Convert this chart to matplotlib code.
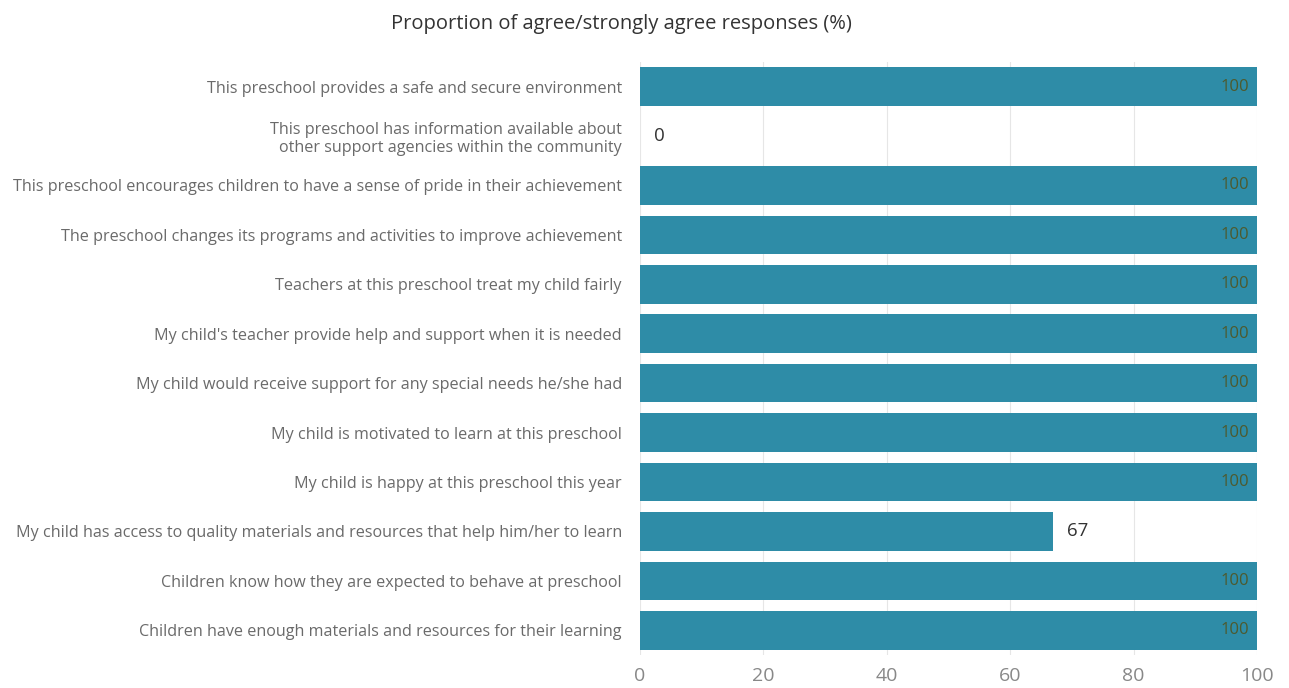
import matplotlib
matplotlib.use("Agg")
import matplotlib.pyplot as plt

plt.rcParams['font.family'] = ['Open Sans', 'DejaVu Sans']

categories = [
    "This preschool provides a safe and secure environment",
    "This preschool has information available about\nother support agencies within the community",
    "This preschool encourages children to have a sense of pride in their achievement",
    "The preschool changes its programs and activities to improve achievement",
    "Teachers at this preschool treat my child fairly",
    "My child's teacher provide help and support when it is needed",
    "My child would receive support for any special needs he/she had",
    "My child is motivated to learn at this preschool",
    "My child is happy at this preschool this year",
    "My child has access to quality materials and resources that help him/her to learn",
    "Children know how they are expected to behave at preschool",
    "Children have enough materials and resources for their learning",
]
values = [100, 0, 100, 100, 100, 100, 100, 100, 100, 67, 100, 100]
xticks = [0, 20, 40, 60, 80, 100]
title = "Proportion of agree/strongly agree responses (%)"

bar_color = "#2E8CA7"

fig = plt.figure(figsize=(12.89, 6.88), dpi=100)
ax = fig.add_axes([0.4965, 0.048, 0.4787, 0.862])

ypos = list(range(len(categories)))
ax.barh(ypos, values, height=0.78, color=bar_color, zorder=2)
ax.set_ylim(len(categories) - 0.5, -0.5)
ax.set_xlim(0, 100)

for y, v in zip(ypos, values):
    if v >= 90:
        ax.text(v - 1.2, y, f"{v}", ha='right', va='center', fontsize=12,
                color="#4d5a2e", zorder=3)
    else:
        ax.text(v + 2.2, y, f"{v}", ha='left', va='center', fontsize=13.5,
                color="#333333", zorder=3)

ax.set_yticks(ypos)
ax.set_yticklabels(categories, fontsize=11.6, color="#6a6a6a")
ax.tick_params(axis='y', length=0, pad=13)
ax.set_xticks(xticks)
ax.set_xticklabels([str(t) for t in xticks], fontsize=14, color="#888888")
ax.tick_params(axis='x', length=0, pad=9)
for lab in ax.get_yticklabels():
    lab.set_multialignment('right')

ax.grid(axis='x', color="#e6e6e6", linewidth=0.8, zorder=0)
for s in ax.spines.values():
    s.set_visible(False)

fig.text(0.482, 0.965, title, ha='center', va='center', fontsize=14.5, color="#333333")

fig.savefig("out.png", dpi=100)
